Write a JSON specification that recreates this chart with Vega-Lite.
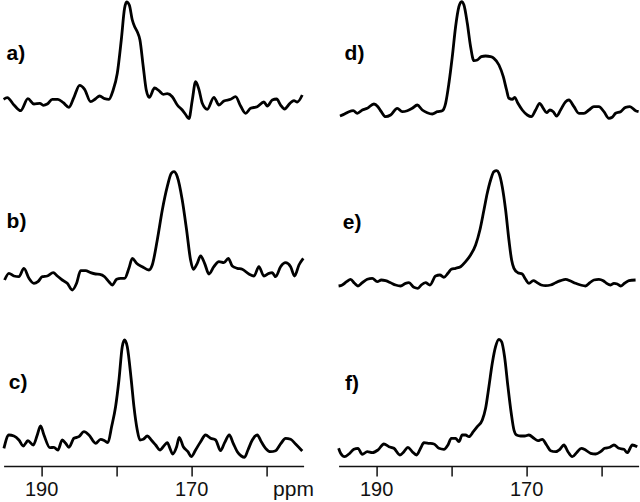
{
  "$schema": "https://vega.github.io/schema/vega-lite/v6.json",
  "padding": {"left": 1.6, "top": 0, "right": 0, "bottom": 0},
  "spacing": 35,
  "bounds": "flush",
  "config": {"view": {"stroke": null}, "font": "Liberation Sans"},
  "datasets": {
    "spectra": [
      {"s":"L","t":"a","ppm":195.0,"y":366.7},{"s":"L","t":"a","ppm":194.51,"y":368.3},{"s":"L","t":"a","ppm":193.62,"y":361},{"s":"L","t":"a","ppm":192.73,"y":355.3},{"s":"L","t":"a","ppm":191.76,"y":367.3},{"s":"L","t":"a","ppm":190.96,"y":362},{"s":"L","t":"a","ppm":190.16,"y":362.7},{"s":"L","t":"a","ppm":189.71,"y":360.7},{"s":"L","t":"a","ppm":189.18,"y":362},{"s":"L","t":"a","ppm":188.51,"y":366.7},{"s":"L","t":"a","ppm":187.76,"y":366.7},{"s":"L","t":"a","ppm":187.04,"y":363.3},{"s":"L","t":"a","ppm":186.29,"y":358.7},{"s":"L","t":"a","ppm":185.62,"y":368.7},{"s":"L","t":"a","ppm":184.87,"y":380.7},{"s":"L","t":"a","ppm":184.2,"y":376.7},{"s":"L","t":"a","ppm":183.4,"y":364.3},{"s":"L","t":"a","ppm":182.73,"y":367.3},{"s":"L","t":"a","ppm":182.2,"y":370},{"s":"L","t":"a","ppm":181.53,"y":367.3},{"s":"L","t":"a","ppm":180.96,"y":366.7},{"s":"L","t":"a","ppm":180.42,"y":375.3},{"s":"L","t":"a","ppm":179.84,"y":392.7},{"s":"L","t":"a","ppm":179.31,"y":426},{"s":"L","t":"a","ppm":178.87,"y":457.7},{"s":"L","t":"a","ppm":178.6,"y":464},{"s":"L","t":"a","ppm":178.24,"y":461},{"s":"L","t":"a","ppm":177.84,"y":446},{"s":"L","t":"a","ppm":177.49,"y":438.7},{"s":"L","t":"a","ppm":177.18,"y":434.3},{"s":"L","t":"a","ppm":176.82,"y":426},{"s":"L","t":"a","ppm":176.38,"y":399.3},{"s":"L","t":"a","ppm":175.98,"y":376},{"s":"L","t":"a","ppm":175.58,"y":368.7},{"s":"L","t":"a","ppm":174.87,"y":378},{"s":"L","t":"a","ppm":174.29,"y":375.3},{"s":"L","t":"a","ppm":173.71,"y":371.7},{"s":"L","t":"a","ppm":173.18,"y":372.3},{"s":"L","t":"a","ppm":172.51,"y":369.3},{"s":"L","t":"a","ppm":171.84,"y":361},{"s":"L","t":"a","ppm":171.18,"y":356},{"s":"L","t":"a","ppm":170.69,"y":351},{"s":"L","t":"a","ppm":170.29,"y":347.3},{"s":"L","t":"a","ppm":169.84,"y":366},{"s":"L","t":"a","ppm":169.4,"y":384.3},{"s":"L","t":"a","ppm":168.96,"y":376.7},{"s":"L","t":"a","ppm":168.51,"y":362.7},{"s":"L","t":"a","ppm":167.84,"y":356.7},{"s":"L","t":"a","ppm":166.96,"y":368.7},{"s":"L","t":"a","ppm":166.29,"y":361},{"s":"L","t":"a","ppm":165.62,"y":365},{"s":"L","t":"a","ppm":164.73,"y":366.7},{"s":"L","t":"a","ppm":164.07,"y":369.3},{"s":"L","t":"a","ppm":163.4,"y":360},{"s":"L","t":"a","ppm":162.73,"y":352.7},{"s":"L","t":"a","ppm":162.07,"y":357.7},{"s":"L","t":"a","ppm":161.18,"y":359.3},{"s":"L","t":"a","ppm":160.29,"y":364},{"s":"L","t":"a","ppm":159.84,"y":360},{"s":"L","t":"a","ppm":159.18,"y":366},{"s":"L","t":"a","ppm":158.6,"y":367},{"s":"L","t":"a","ppm":158.07,"y":361},{"s":"L","t":"a","ppm":157.53,"y":357},{"s":"L","t":"a","ppm":156.82,"y":362.7},{"s":"L","t":"a","ppm":156.29,"y":365.3},{"s":"L","t":"a","ppm":155.84,"y":364},{"s":"L","t":"a","ppm":155.18,"y":371},
      {"s":"L","t":"b","ppm":194.87,"y":186},{"s":"L","t":"b","ppm":194.29,"y":192.7},{"s":"L","t":"b","ppm":193.62,"y":190},{"s":"L","t":"b","ppm":192.96,"y":189.3},{"s":"L","t":"b","ppm":192.29,"y":197.7},{"s":"L","t":"b","ppm":191.62,"y":187.7},{"s":"L","t":"b","ppm":190.96,"y":182.7},{"s":"L","t":"b","ppm":190.42,"y":184.3},{"s":"L","t":"b","ppm":189.84,"y":189.3},{"s":"L","t":"b","ppm":189.18,"y":190},{"s":"L","t":"b","ppm":188.38,"y":193.3},{"s":"L","t":"b","ppm":187.84,"y":190},{"s":"L","t":"b","ppm":187.18,"y":186},{"s":"L","t":"b","ppm":186.51,"y":182.7},{"s":"L","t":"b","ppm":185.84,"y":176},{"s":"L","t":"b","ppm":185.27,"y":182.7},{"s":"L","t":"b","ppm":184.73,"y":195.3},{"s":"L","t":"b","ppm":184.07,"y":195.3},{"s":"L","t":"b","ppm":183.4,"y":193.3},{"s":"L","t":"b","ppm":182.73,"y":192},{"s":"L","t":"b","ppm":182.16,"y":191.7},{"s":"L","t":"b","ppm":181.53,"y":189.3},{"s":"L","t":"b","ppm":180.96,"y":184.3},{"s":"L","t":"b","ppm":180.51,"y":181},{"s":"L","t":"b","ppm":179.93,"y":186.7},{"s":"L","t":"b","ppm":179.4,"y":187.7},{"s":"L","t":"b","ppm":178.87,"y":187.7},{"s":"L","t":"b","ppm":178.29,"y":197.7},{"s":"L","t":"b","ppm":177.84,"y":207.7},{"s":"L","t":"b","ppm":177.27,"y":202.7},{"s":"L","t":"b","ppm":176.51,"y":199.3},{"s":"L","t":"b","ppm":175.62,"y":196},{"s":"L","t":"b","ppm":175.18,"y":201},{"s":"L","t":"b","ppm":174.51,"y":226},{"s":"L","t":"b","ppm":173.84,"y":256},{"s":"L","t":"b","ppm":173.18,"y":279.3},{"s":"L","t":"b","ppm":172.64,"y":292.7},{"s":"L","t":"b","ppm":172.29,"y":294.3},{"s":"L","t":"b","ppm":171.84,"y":289.3},{"s":"L","t":"b","ppm":171.18,"y":266},{"s":"L","t":"b","ppm":170.6,"y":236},{"s":"L","t":"b","ppm":170.07,"y":206},{"s":"L","t":"b","ppm":169.71,"y":196.7},{"s":"L","t":"b","ppm":169.18,"y":202.7},{"s":"L","t":"b","ppm":168.73,"y":210},{"s":"L","t":"b","ppm":168.2,"y":202.7},{"s":"L","t":"b","ppm":167.62,"y":192},{"s":"L","t":"b","ppm":166.96,"y":199.3},{"s":"L","t":"b","ppm":166.29,"y":204.3},{"s":"L","t":"b","ppm":165.62,"y":203.3},{"s":"L","t":"b","ppm":165.04,"y":207.7},{"s":"L","t":"b","ppm":164.51,"y":200},{"s":"L","t":"b","ppm":163.84,"y":197.7},{"s":"L","t":"b","ppm":163.18,"y":196.7},{"s":"L","t":"b","ppm":162.29,"y":192},{"s":"L","t":"b","ppm":161.62,"y":190},{"s":"L","t":"b","ppm":160.96,"y":199.3},{"s":"L","t":"b","ppm":160.29,"y":190},{"s":"L","t":"b","ppm":159.62,"y":192.7},{"s":"L","t":"b","ppm":159.18,"y":193.3},{"s":"L","t":"b","ppm":158.73,"y":189.3},{"s":"L","t":"b","ppm":158.07,"y":199.3},{"s":"L","t":"b","ppm":157.4,"y":203.3},{"s":"L","t":"b","ppm":156.73,"y":199.3},{"s":"L","t":"b","ppm":156.2,"y":190},{"s":"L","t":"b","ppm":155.62,"y":201},{"s":"L","t":"b","ppm":155.04,"y":207.7},
      {"s":"L","t":"c","ppm":194.96,"y":17.7},{"s":"L","t":"c","ppm":194.29,"y":31},{"s":"L","t":"c","ppm":193.62,"y":30},{"s":"L","t":"c","ppm":192.96,"y":26},{"s":"L","t":"c","ppm":192.38,"y":20},{"s":"L","t":"c","ppm":191.76,"y":25.3},{"s":"L","t":"c","ppm":191.04,"y":21},{"s":"L","t":"c","ppm":190.51,"y":31},{"s":"L","t":"c","ppm":190.07,"y":40},{"s":"L","t":"c","ppm":189.62,"y":31},{"s":"L","t":"c","ppm":188.82,"y":18.3},{"s":"L","t":"c","ppm":188.29,"y":18.7},{"s":"L","t":"c","ppm":187.76,"y":16},{"s":"L","t":"c","ppm":187.18,"y":26},{"s":"L","t":"c","ppm":186.73,"y":22.7},{"s":"L","t":"c","ppm":186.29,"y":18.7},{"s":"L","t":"c","ppm":185.62,"y":27.7},{"s":"L","t":"c","ppm":184.96,"y":29.3},{"s":"L","t":"c","ppm":184.29,"y":34.3},{"s":"L","t":"c","ppm":183.62,"y":31},{"s":"L","t":"c","ppm":182.73,"y":22.7},{"s":"L","t":"c","ppm":182.07,"y":26.7},{"s":"L","t":"c","ppm":181.53,"y":25.3},{"s":"L","t":"c","ppm":181.09,"y":23.3},{"s":"L","t":"c","ppm":180.6,"y":39.3},{"s":"L","t":"c","ppm":180.07,"y":59.3},{"s":"L","t":"c","ppm":179.62,"y":86},{"s":"L","t":"c","ppm":179.18,"y":119.3},{"s":"L","t":"c","ppm":178.87,"y":126},{"s":"L","t":"c","ppm":178.51,"y":119.3},{"s":"L","t":"c","ppm":177.98,"y":86},{"s":"L","t":"c","ppm":177.62,"y":59.3},{"s":"L","t":"c","ppm":177.18,"y":36},{"s":"L","t":"c","ppm":176.82,"y":26},{"s":"L","t":"c","ppm":176.38,"y":26.7},{"s":"L","t":"c","ppm":175.84,"y":30},{"s":"L","t":"c","ppm":175.31,"y":26},{"s":"L","t":"c","ppm":174.73,"y":21},{"s":"L","t":"c","ppm":174.16,"y":16},{"s":"L","t":"c","ppm":173.53,"y":21},{"s":"L","t":"c","ppm":173.18,"y":23.3},{"s":"L","t":"c","ppm":172.82,"y":17.7},{"s":"L","t":"c","ppm":172.47,"y":12},{"s":"L","t":"c","ppm":171.93,"y":19.3},{"s":"L","t":"c","ppm":171.58,"y":28.7},{"s":"L","t":"c","ppm":171.04,"y":19.3},{"s":"L","t":"c","ppm":170.42,"y":14.3},{"s":"L","t":"c","ppm":169.98,"y":9.3},{"s":"L","t":"c","ppm":169.4,"y":16},{"s":"L","t":"c","ppm":168.73,"y":24.3},{"s":"L","t":"c","ppm":168.07,"y":31},{"s":"L","t":"c","ppm":167.4,"y":27.7},{"s":"L","t":"c","ppm":166.73,"y":26},{"s":"L","t":"c","ppm":166.07,"y":15.3},{"s":"L","t":"c","ppm":165.53,"y":23.3},{"s":"L","t":"c","ppm":164.91,"y":31},{"s":"L","t":"c","ppm":164.38,"y":22.7},{"s":"L","t":"c","ppm":163.84,"y":14.3},{"s":"L","t":"c","ppm":163.31,"y":10},{"s":"L","t":"c","ppm":162.87,"y":8.7},{"s":"L","t":"c","ppm":162.42,"y":16},{"s":"L","t":"c","ppm":161.84,"y":26},{"s":"L","t":"c","ppm":161.18,"y":31},{"s":"L","t":"c","ppm":160.64,"y":24.3},{"s":"L","t":"c","ppm":160.07,"y":17.7},{"s":"L","t":"c","ppm":159.4,"y":14.3},{"s":"L","t":"c","ppm":158.73,"y":15.3},{"s":"L","t":"c","ppm":158.07,"y":22},{"s":"L","t":"c","ppm":157.4,"y":27.7},{"s":"L","t":"c","ppm":156.73,"y":26.7},{"s":"L","t":"c","ppm":156.07,"y":22},{"s":"L","t":"c","ppm":155.18,"y":15},
      {"s":"R","t":"d","ppm":194.82,"y":350},{"s":"R","t":"d","ppm":194.2,"y":352},{"s":"R","t":"d","ppm":193.62,"y":354.3},{"s":"R","t":"d","ppm":193.04,"y":355.3},{"s":"R","t":"d","ppm":192.51,"y":352.7},{"s":"R","t":"d","ppm":191.84,"y":356},{"s":"R","t":"d","ppm":191.18,"y":357.7},{"s":"R","t":"d","ppm":190.29,"y":362},{"s":"R","t":"d","ppm":189.76,"y":359.3},{"s":"R","t":"d","ppm":189.31,"y":354.3},{"s":"R","t":"d","ppm":188.73,"y":349.3},{"s":"R","t":"d","ppm":188.07,"y":351},{"s":"R","t":"d","ppm":187.18,"y":357.7},{"s":"R","t":"d","ppm":186.51,"y":354.3},{"s":"R","t":"d","ppm":185.84,"y":355.3},{"s":"R","t":"d","ppm":185.18,"y":357.7},{"s":"R","t":"d","ppm":184.51,"y":361},{"s":"R","t":"d","ppm":183.84,"y":356},{"s":"R","t":"d","ppm":183.18,"y":353.3},{"s":"R","t":"d","ppm":182.51,"y":352},{"s":"R","t":"d","ppm":181.84,"y":354.3},{"s":"R","t":"d","ppm":181.18,"y":355.3},{"s":"R","t":"d","ppm":180.73,"y":362.7},{"s":"R","t":"d","ppm":180.29,"y":382.7},{"s":"R","t":"d","ppm":179.84,"y":409.3},{"s":"R","t":"d","ppm":179.4,"y":439.3},{"s":"R","t":"d","ppm":178.96,"y":459.3},{"s":"R","t":"d","ppm":178.6,"y":464.3},{"s":"R","t":"d","ppm":178.29,"y":461},{"s":"R","t":"d","ppm":177.84,"y":442.7},{"s":"R","t":"d","ppm":177.4,"y":419.3},{"s":"R","t":"d","ppm":176.96,"y":405.3},{"s":"R","t":"d","ppm":176.51,"y":406},{"s":"R","t":"d","ppm":175.98,"y":409.3},{"s":"R","t":"d","ppm":175.4,"y":410},{"s":"R","t":"d","ppm":174.73,"y":409.3},{"s":"R","t":"d","ppm":174.29,"y":407.7},{"s":"R","t":"d","ppm":173.62,"y":401},{"s":"R","t":"d","ppm":173.04,"y":389.3},{"s":"R","t":"d","ppm":172.6,"y":376},{"s":"R","t":"d","ppm":172.29,"y":367.7},{"s":"R","t":"d","ppm":171.84,"y":366.7},{"s":"R","t":"d","ppm":171.53,"y":368.7},{"s":"R","t":"d","ppm":171.09,"y":362.7},{"s":"R","t":"d","ppm":170.51,"y":356},{"s":"R","t":"d","ppm":169.84,"y":351},{"s":"R","t":"d","ppm":169.31,"y":349.3},{"s":"R","t":"d","ppm":168.73,"y":356},{"s":"R","t":"d","ppm":168.2,"y":362.7},{"s":"R","t":"d","ppm":167.71,"y":357.7},{"s":"R","t":"d","ppm":167.27,"y":353.3},{"s":"R","t":"d","ppm":166.82,"y":356},{"s":"R","t":"d","ppm":166.38,"y":354.3},{"s":"R","t":"d","ppm":165.93,"y":350},{"s":"R","t":"d","ppm":165.4,"y":356},{"s":"R","t":"d","ppm":164.73,"y":364.3},{"s":"R","t":"d","ppm":164.29,"y":366},{"s":"R","t":"d","ppm":163.62,"y":359.3},{"s":"R","t":"d","ppm":162.96,"y":352.7},{"s":"R","t":"d","ppm":162.29,"y":352.7},{"s":"R","t":"d","ppm":161.62,"y":356},{"s":"R","t":"d","ppm":160.96,"y":359.3},{"s":"R","t":"d","ppm":160.29,"y":359.3},{"s":"R","t":"d","ppm":159.62,"y":354.3},{"s":"R","t":"d","ppm":158.96,"y":347.7},{"s":"R","t":"d","ppm":158.51,"y":348.7},{"s":"R","t":"d","ppm":158.07,"y":352.7},{"s":"R","t":"d","ppm":157.4,"y":354.3},{"s":"R","t":"d","ppm":156.73,"y":358.7},{"s":"R","t":"d","ppm":156.16,"y":359.3},{"s":"R","t":"d","ppm":155.4,"y":355.3},{"s":"R","t":"d","ppm":155.0,"y":354.3},
      {"s":"R","t":"e","ppm":195.0,"y":180},{"s":"R","t":"e","ppm":194.51,"y":181},{"s":"R","t":"e","ppm":193.93,"y":184.3},{"s":"R","t":"e","ppm":193.4,"y":186.7},{"s":"R","t":"e","ppm":192.87,"y":182.7},{"s":"R","t":"e","ppm":192.42,"y":180},{"s":"R","t":"e","ppm":191.84,"y":183.3},{"s":"R","t":"e","ppm":191.18,"y":186.7},{"s":"R","t":"e","ppm":190.51,"y":187.7},{"s":"R","t":"e","ppm":189.84,"y":184.3},{"s":"R","t":"e","ppm":189.31,"y":186},{"s":"R","t":"e","ppm":188.73,"y":185.3},{"s":"R","t":"e","ppm":188.07,"y":183.3},{"s":"R","t":"e","ppm":187.4,"y":181},{"s":"R","t":"e","ppm":186.73,"y":180},{"s":"R","t":"e","ppm":186.07,"y":182.7},{"s":"R","t":"e","ppm":185.62,"y":183.3},{"s":"R","t":"e","ppm":184.96,"y":178.7},{"s":"R","t":"e","ppm":184.42,"y":177.7},{"s":"R","t":"e","ppm":183.98,"y":181},{"s":"R","t":"e","ppm":183.4,"y":183.3},{"s":"R","t":"e","ppm":182.82,"y":181},{"s":"R","t":"e","ppm":182.07,"y":190},{"s":"R","t":"e","ppm":181.49,"y":191},{"s":"R","t":"e","ppm":180.96,"y":188.7},{"s":"R","t":"e","ppm":180.42,"y":192.7},{"s":"R","t":"e","ppm":179.98,"y":196.7},{"s":"R","t":"e","ppm":179.4,"y":197.7},{"s":"R","t":"e","ppm":178.73,"y":199.3},{"s":"R","t":"e","ppm":178.07,"y":204.3},{"s":"R","t":"e","ppm":177.4,"y":211},{"s":"R","t":"e","ppm":176.73,"y":221},{"s":"R","t":"e","ppm":176.16,"y":236},{"s":"R","t":"e","ppm":175.62,"y":256},{"s":"R","t":"e","ppm":175.18,"y":272.7},{"s":"R","t":"e","ppm":174.73,"y":286},{"s":"R","t":"e","ppm":174.29,"y":294.3},{"s":"R","t":"e","ppm":173.93,"y":295.3},{"s":"R","t":"e","ppm":173.62,"y":292.7},{"s":"R","t":"e","ppm":173.18,"y":279.3},{"s":"R","t":"e","ppm":172.73,"y":256},{"s":"R","t":"e","ppm":172.29,"y":226},{"s":"R","t":"e","ppm":171.93,"y":206},{"s":"R","t":"e","ppm":171.62,"y":197.7},{"s":"R","t":"e","ppm":171.09,"y":193.3},{"s":"R","t":"e","ppm":170.51,"y":192},{"s":"R","t":"e","ppm":170.07,"y":186.7},{"s":"R","t":"e","ppm":169.62,"y":182.7},{"s":"R","t":"e","ppm":169.04,"y":185.3},{"s":"R","t":"e","ppm":168.51,"y":183.3},{"s":"R","t":"e","ppm":167.98,"y":181},{"s":"R","t":"e","ppm":167.4,"y":180.3},{"s":"R","t":"e","ppm":166.73,"y":181},{"s":"R","t":"e","ppm":166.07,"y":183.3},{"s":"R","t":"e","ppm":165.4,"y":185.3},{"s":"R","t":"e","ppm":164.73,"y":186.7},{"s":"R","t":"e","ppm":164.07,"y":185},{"s":"R","t":"e","ppm":163.4,"y":182.7},{"s":"R","t":"e","ppm":162.73,"y":181},{"s":"R","t":"e","ppm":162.07,"y":180},{"s":"R","t":"e","ppm":161.49,"y":183.3},{"s":"R","t":"e","ppm":160.96,"y":186},{"s":"R","t":"e","ppm":160.29,"y":186.7},{"s":"R","t":"e","ppm":159.71,"y":185.3},{"s":"R","t":"e","ppm":159.27,"y":182.7},{"s":"R","t":"e","ppm":158.73,"y":181},{"s":"R","t":"e","ppm":158.29,"y":182.7},{"s":"R","t":"e","ppm":157.84,"y":182},{"s":"R","t":"e","ppm":157.4,"y":180},{"s":"R","t":"e","ppm":156.87,"y":182.7},{"s":"R","t":"e","ppm":156.29,"y":185.3},{"s":"R","t":"e","ppm":155.4,"y":186},
      {"s":"R","t":"f","ppm":195.0,"y":17.7},{"s":"R","t":"f","ppm":194.73,"y":12.7},{"s":"R","t":"f","ppm":194.2,"y":9.3},{"s":"R","t":"f","ppm":193.62,"y":12},{"s":"R","t":"f","ppm":192.96,"y":16.7},{"s":"R","t":"f","ppm":192.42,"y":17.7},{"s":"R","t":"f","ppm":191.84,"y":11.7},{"s":"R","t":"f","ppm":191.18,"y":14.3},{"s":"R","t":"f","ppm":190.51,"y":13.3},{"s":"R","t":"f","ppm":189.76,"y":16},{"s":"R","t":"f","ppm":188.96,"y":22},{"s":"R","t":"f","ppm":188.29,"y":19.3},{"s":"R","t":"f","ppm":187.62,"y":17.7},{"s":"R","t":"f","ppm":186.82,"y":11},{"s":"R","t":"f","ppm":186.29,"y":14.3},{"s":"R","t":"f","ppm":185.76,"y":18.7},{"s":"R","t":"f","ppm":185.18,"y":14.3},{"s":"R","t":"f","ppm":184.6,"y":11},{"s":"R","t":"f","ppm":184.07,"y":17.7},{"s":"R","t":"f","ppm":183.62,"y":23.3},{"s":"R","t":"f","ppm":182.96,"y":22.7},{"s":"R","t":"f","ppm":182.29,"y":22},{"s":"R","t":"f","ppm":181.62,"y":17.7},{"s":"R","t":"f","ppm":180.96,"y":16.7},{"s":"R","t":"f","ppm":180.42,"y":21},{"s":"R","t":"f","ppm":179.98,"y":27.7},{"s":"R","t":"f","ppm":179.4,"y":27.7},{"s":"R","t":"f","ppm":178.96,"y":24.3},{"s":"R","t":"f","ppm":178.51,"y":31},{"s":"R","t":"f","ppm":178.07,"y":31},{"s":"R","t":"f","ppm":177.62,"y":29.3},{"s":"R","t":"f","ppm":177.04,"y":34.3},{"s":"R","t":"f","ppm":176.51,"y":39.3},{"s":"R","t":"f","ppm":175.84,"y":46},{"s":"R","t":"f","ppm":175.4,"y":57.7},{"s":"R","t":"f","ppm":174.96,"y":79.3},{"s":"R","t":"f","ppm":174.51,"y":102.7},{"s":"R","t":"f","ppm":174.07,"y":119.3},{"s":"R","t":"f","ppm":173.62,"y":126.7},{"s":"R","t":"f","ppm":173.27,"y":124.3},{"s":"R","t":"f","ppm":172.87,"y":109.3},{"s":"R","t":"f","ppm":172.42,"y":79.3},{"s":"R","t":"f","ppm":171.98,"y":52.7},{"s":"R","t":"f","ppm":171.62,"y":36},{"s":"R","t":"f","ppm":171.27,"y":31},{"s":"R","t":"f","ppm":170.73,"y":30},{"s":"R","t":"f","ppm":170.2,"y":30},{"s":"R","t":"f","ppm":169.62,"y":31},{"s":"R","t":"f","ppm":168.96,"y":27.7},{"s":"R","t":"f","ppm":168.42,"y":25.3},{"s":"R","t":"f","ppm":167.84,"y":26.7},{"s":"R","t":"f","ppm":167.27,"y":21},{"s":"R","t":"f","ppm":166.73,"y":15.3},{"s":"R","t":"f","ppm":166.07,"y":14.3},{"s":"R","t":"f","ppm":165.49,"y":16.7},{"s":"R","t":"f","ppm":164.96,"y":21},{"s":"R","t":"f","ppm":164.42,"y":14.3},{"s":"R","t":"f","ppm":163.84,"y":9.3},{"s":"R","t":"f","ppm":163.27,"y":13.3},{"s":"R","t":"f","ppm":162.64,"y":17.7},{"s":"R","t":"f","ppm":162.07,"y":16},{"s":"R","t":"f","ppm":161.4,"y":12.7},{"s":"R","t":"f","ppm":160.73,"y":12},{"s":"R","t":"f","ppm":160.07,"y":14.3},{"s":"R","t":"f","ppm":159.53,"y":17.7},{"s":"R","t":"f","ppm":158.82,"y":18.7},{"s":"R","t":"f","ppm":158.29,"y":21},{"s":"R","t":"f","ppm":157.62,"y":17.7},{"s":"R","t":"f","ppm":156.96,"y":16.7},{"s":"R","t":"f","ppm":156.51,"y":13.3},{"s":"R","t":"f","ppm":155.84,"y":21},{"s":"R","t":"f","ppm":155.18,"y":19.3}
    ],
    "labels": [
      {"s":"L","label":"a)","ppm":194.6,"y":406.5},
      {"s":"L","label":"b)","ppm":194.6,"y":238.5},
      {"s":"L","label":"c)","ppm":194.3,"y":77},
      {"s":"R","label":"d)","ppm":194.2,"y":406},
      {"s":"R","label":"e)","ppm":194.45,"y":237},
      {"s":"R","label":"f)","ppm":194.15,"y":76}
    ]
  },
  "hconcat": [
    {
      "width": 300,
      "height": 466,
      "layer": [
        {
          "data": {"name": "spectra"},
          "transform": [{"filter": "datum.s === 'L'"}],
          "mark": {"type": "line", "color": "black", "strokeWidth": 2.8, "strokeJoin": "round", "interpolate": "monotone"},
          "encoding": {
            "x": {"field": "ppm", "type": "quantitative",
              "scale": {"domain": [155, 195], "reverse": true, "nice": false, "zero": false},
              "axis": {"values": [190, 180, 170, 160], "labelExpr": "datum.value % 20 == 10 ? datum.label : ''",
                "grid": false, "tickSize": 10, "tickWidth": 1.5, "tickColor": "#111", "domainWidth": 1.5, "domainColor": "#111",
                "labelFontSize": 20, "labelColor": "#111", "labelPadding": 4, "labelFlush": false,
                "title": "ppm", "titleFontSize": 21, "titleFontWeight": "normal", "titleColor": "#111",
                "titleX": 269, "titleY": 30, "titleAlign": "left", "titleBaseline": "alphabetic", "titleAnchor": null}},
            "y": {"field": "y", "type": "quantitative", "scale": {"domain": [0, 466], "nice": false, "zero": false}, "axis": null},
            "detail": {"field": "t"}
          }
        },
        {
          "data": {"name": "labels"},
          "transform": [{"filter": "datum.s === 'L'"}],
          "mark": {"type": "text", "fontSize": 21, "fontWeight": "bold", "align": "left", "baseline": "alphabetic", "color": "black"},
          "encoding": {
            "x": {"field": "ppm", "type": "quantitative"},
            "y": {"field": "y", "type": "quantitative"},
            "text": {"field": "label"}
          }
        }
      ]
    },
    {
      "width": 300,
      "height": 466,
      "layer": [
        {
          "data": {"name": "spectra"},
          "transform": [{"filter": "datum.s === 'R'"}],
          "mark": {"type": "line", "color": "black", "strokeWidth": 2.8, "strokeJoin": "round", "interpolate": "monotone"},
          "encoding": {
            "x": {"field": "ppm", "type": "quantitative",
              "scale": {"domain": [155, 195], "reverse": true, "nice": false, "zero": false},
              "axis": {"values": [190, 180, 170, 160], "labelExpr": "datum.value % 20 == 10 ? datum.label : ''",
                "grid": false, "tickSize": 10, "tickWidth": 1.5, "tickColor": "#111", "domainWidth": 1.5, "domainColor": "#111",
                "labelFontSize": 20, "labelColor": "#111", "labelPadding": 4, "labelFlush": false, "title": null}},
            "y": {"field": "y", "type": "quantitative", "scale": {"domain": [0, 466], "nice": false, "zero": false}, "axis": null},
            "detail": {"field": "t"}
          }
        },
        {
          "data": {"name": "labels"},
          "transform": [{"filter": "datum.s === 'R'"}],
          "mark": {"type": "text", "fontSize": 21, "fontWeight": "bold", "align": "left", "baseline": "alphabetic", "color": "black"},
          "encoding": {
            "x": {"field": "ppm", "type": "quantitative"},
            "y": {"field": "y", "type": "quantitative"},
            "text": {"field": "label"}
          }
        }
      ]
    }
  ]
}
